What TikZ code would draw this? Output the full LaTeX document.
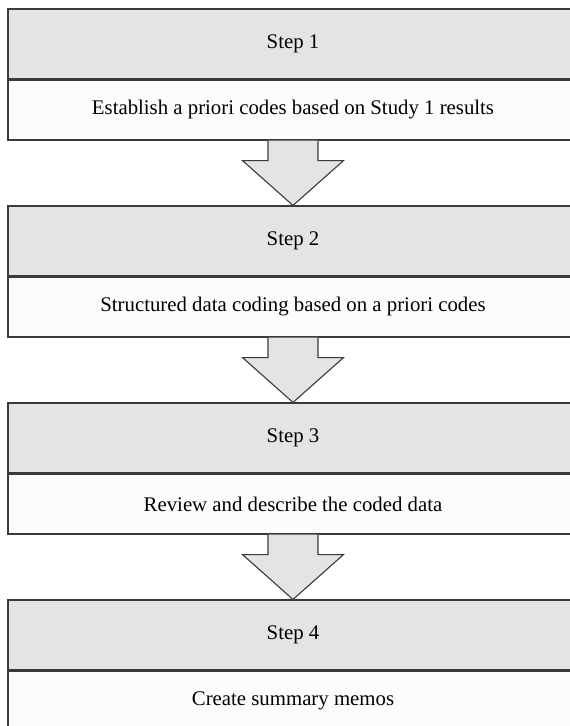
\documentclass[tikz,border=0pt]{standalone}
\usepackage{fontspec}
\setmainfont{Liberation Serif}
\usetikzlibrary{calc}
\definecolor{headfill}{HTML}{E4E4E4}
\definecolor{bodyfill}{HTML}{FCFCFC}
\definecolor{edge}{HTML}{3A3A3A}
\tikzset{
  stephead/.style={draw=edge, line width=1.1pt, fill=headfill, rectangle,
    minimum width=570pt, minimum height=70pt, inner sep=0pt,
    font=\fontsize{20.8}{24}\selectfont},
  stepbody/.style={draw=edge, line width=1.1pt, fill=bodyfill, rectangle,
    minimum width=570pt, minimum height=60pt, inner sep=0pt,
    font=\fontsize{20.8}{24}\selectfont},
  blockarrow/.style={draw=edge, line width=1.1pt, fill=headfill, line join=miter}
}
% block arrow from the bottom of one body to the top of the next header
\newcommand{\flowarrow}[2]{%
  \filldraw[blockarrow]
    ($(#1.south)+(-25,0)$) -- ($(#1.south)+(-25,20)$) -- ($(#1.south)+(-50.5,20)$)
    -- (#2.north) -- ($(#1.south)+(50.5,20)$) -- ($(#1.south)+(25,20)$)
    -- ($(#1.south)+(25,0)$);
}
\begin{document}
\begin{tikzpicture}[x=1pt,y=-1pt]
\useasboundingbox (0,0) rectangle (570,726);
\clip (0,0) rectangle (570,726);

\node[stephead] (h1) at (293,44)  {Step 1};
\node[stepbody] (b1) at (293,110) {Establish a priori codes based on Study 1 results};

\node[stephead] (h2) at (293,241) {Step 2};
\node[stepbody] (b2) at (293,307) {Structured data coding based on a priori codes};

\node[stephead] (h3) at (293,438) {Step 3};
\node[stepbody] (b3) at (293,504) {Review and describe the coded data};

\node[stephead] (h4) at (293,635) {Step 4};
\node[stepbody] (b4) at (293,701) {Create summary memos};

\flowarrow{b1}{h2}
\flowarrow{b2}{h3}
\flowarrow{b3}{h4}
\end{tikzpicture}
\end{document}
